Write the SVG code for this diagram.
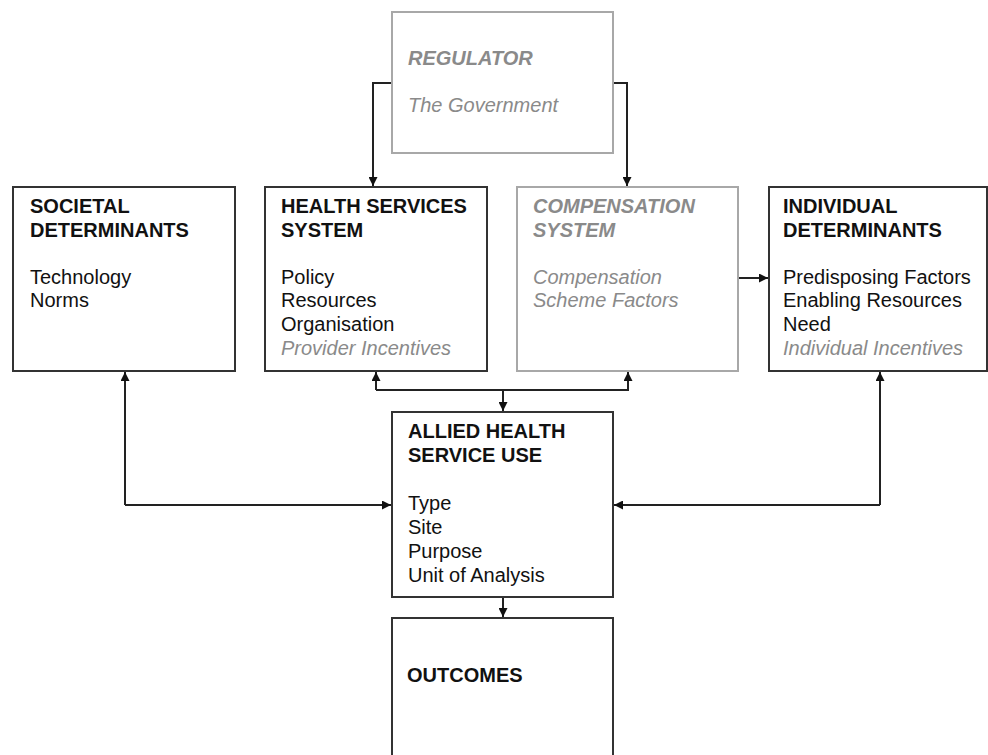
<svg xmlns="http://www.w3.org/2000/svg" width="988" height="755" viewBox="0 0 988 755">
<style>
text{font-family:"Liberation Sans",Arial,sans-serif;font-size:20px;fill:#111}
.h{font-weight:bold}
.g{fill:#8a8a8a;font-style:italic}
.box{fill:#fff;stroke:#333;stroke-width:2}
.gbox{fill:#fff;stroke:#a8a8a8;stroke-width:2}
.c{fill:none;stroke:#222;stroke-width:2}
</style>
<defs>
<marker id="a" viewBox="0 0 10 10" refX="10" refY="5" markerWidth="9" markerHeight="9" markerUnits="userSpaceOnUse" orient="auto"><path d="M0,0L10,5L0,10z" fill="#111"/></marker>
</defs>
<g id="connectors">
<path class="c" d="M392,83H373V186" marker-end="url(#a)"/>
<path class="c" d="M613,83H627V186" marker-end="url(#a)"/>
<path class="c" d="M738,278H768" marker-end="url(#a)"/>
<path class="c" d="M376,390V372" marker-end="url(#a)"/>
<path class="c" d="M376,390H628V372" marker-end="url(#a)"/>
<path class="c" d="M503,390V411" marker-end="url(#a)"/>
<path class="c" d="M125,505V372" marker-end="url(#a)"/>
<path class="c" d="M125,505H391" marker-end="url(#a)"/>
<path class="c" d="M880,505V372" marker-end="url(#a)"/>
<path class="c" d="M880,505H614" marker-end="url(#a)"/>
<path class="c" d="M503,597V617" marker-end="url(#a)"/>
</g>
<g id="regulator">
<rect class="gbox" x="392" y="12" width="221" height="141"/>
<text class="h g" x="408" y="65">REGULATOR</text>
<text class="g" x="408" y="112">The Government</text>
</g>
<g id="societal">
<rect class="box" x="13" y="187" width="222" height="184"/>
<text class="h" x="30" y="213">SOCIETAL</text>
<text class="h" x="30" y="237">DETERMINANTS</text>
<text x="30" y="284">Technology</text>
<text x="30" y="307">Norms</text>
</g>
<g id="health-services">
<rect class="box" x="265" y="187" width="222" height="184"/>
<text class="h" x="281" y="213">HEALTH SERVICES</text>
<text class="h" x="281" y="237">SYSTEM</text>
<text x="281" y="284">Policy</text>
<text x="281" y="307">Resources</text>
<text x="281" y="331">Organisation</text>
<text class="g" x="281" y="355">Provider Incentives</text>
</g>
<g id="compensation">
<rect class="gbox" x="517" y="187" width="221" height="184"/>
<text class="h g" x="533" y="213">COMPENSATION</text>
<text class="h g" x="533" y="237">SYSTEM</text>
<text class="g" x="533" y="284">Compensation</text>
<text class="g" x="533" y="307">Scheme Factors</text>
</g>
<g id="individual">
<rect class="box" x="769" y="187" width="218" height="184"/>
<text class="h" x="783" y="213">INDIVIDUAL</text>
<text class="h" x="783" y="237">DETERMINANTS</text>
<text x="783" y="284">Predisposing Factors</text>
<text x="783" y="307">Enabling Resources</text>
<text x="783" y="331">Need</text>
<text class="g" x="783" y="355">Individual Incentives</text>
</g>
<g id="allied">
<rect class="box" x="392" y="412" width="221" height="185"/>
<text class="h" x="408" y="438">ALLIED HEALTH</text>
<text class="h" x="408" y="462">SERVICE USE</text>
<text x="408" y="510">Type</text>
<text x="408" y="534">Site</text>
<text x="408" y="558">Purpose</text>
<text x="408" y="582">Unit of Analysis</text>
</g>
<g id="outcomes">
<path class="box" d="M392,756V618H613V756"/>
<text class="h" x="407" y="682">OUTCOMES</text>
</g>
</svg>
